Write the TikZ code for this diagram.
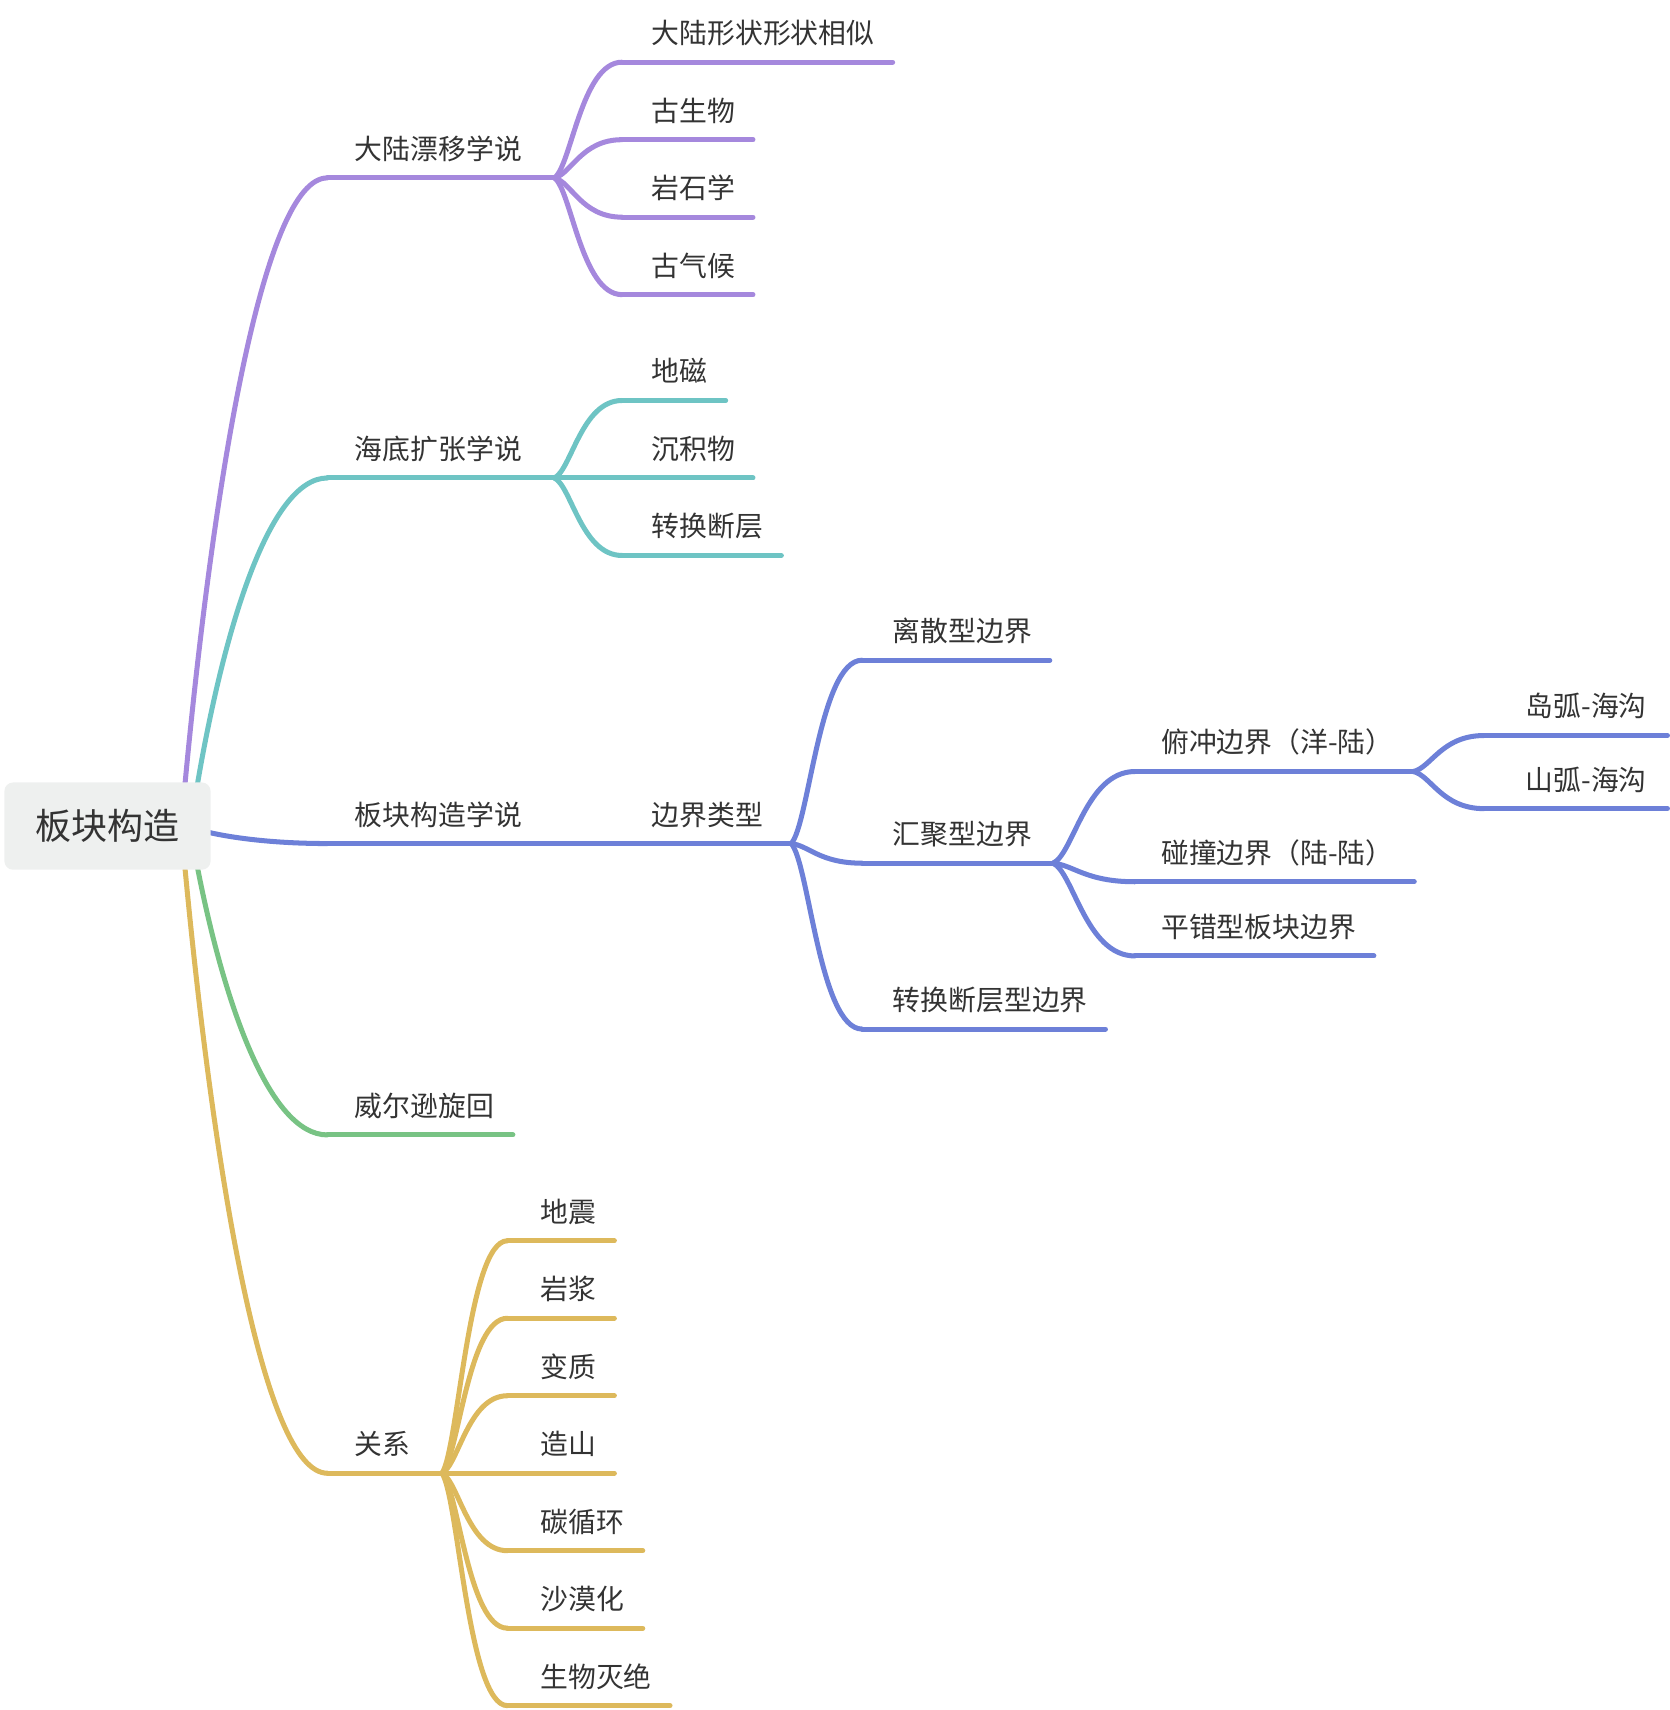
\documentclass[tikz,border=0pt]{standalone}
\usepackage{fontspec}
\setmainfont{Noto Sans CJK SC}
\usetikzlibrary{calc}
\pgfdeclarelayer{bg}
\pgfsetlayers{bg,main}
\definecolor{cpur}{HTML}{A588DD}
\definecolor{cteal}{HTML}{6EC4C4}
\definecolor{cblue}{HTML}{6D80D8}
\definecolor{cgreen}{HTML}{78C384}
\definecolor{cyel}{HTML}{DDB95C}
\definecolor{ctext}{HTML}{333333}
\definecolor{croot}{HTML}{EEF0EF}
\tikzset{
 lbl/.style={anchor=base west, inner sep=0pt, text=ctext, font=\fontsize{25.5}{30}\selectfont},
 rootbox/.style={fill=croot, rounded corners=8pt, minimum width=189pt, minimum height=80pt, inner sep=0pt, text=ctext, font=\fontsize{33}{38}\selectfont},
 br/.style={line width=4.6pt, line cap=round, draw=#1},
}
\newcommand\curveA[3]{\draw[br=#1] let \p1=(#2),\p2=(#3) in (\p1) .. controls ({\x1+0.2*(\x2-\x1)},{\y1+0.5*(\y2-\y1)}) and ({\x1+0.55*(\x2-\x1)},{\y2}) .. (\p2);}
\newcommand\curveB[3]{\draw[br=#1] let \p1=(#2),\p2=(#3) in (\p1) .. controls ({\x1+0.25*(\x2-\x1)},{\y1+0.1*(\y2-\y1)}) and ({\x1+0.4*(\x2-\x1)},{\y2}) .. (\p2);}
\newcommand\topic[7]{%
 \coordinate (#1-s) at (#2,#4);
 \coordinate (#1-e) at (#3,#4);
 \node[lbl] (#1) at (#5,#4-17) {#7};
 \draw[br=#6] (#1-s) -- (#1-e);}
\begin{document}
\begin{tikzpicture}[x=1pt,y=-1pt]
\useasboundingbox (0,0) rectangle (1530,1567);
\node[rootbox] (root) at (98.5,757) {板块构造};
\coordinate (rp) at (169,724);
\coordinate (rt) at (180,724);
\coordinate (rb) at (188,762);
\coordinate (rg) at (180,790);
\coordinate (ry) at (169,790);

\topic{t1}{300}{508}{163}{325}{cpur}{大陆漂移学说}
\topic{t1a}{570}{818}{57}{597}{cpur}{大陆形状形状相似}
\topic{t1b}{570}{690}{128}{597}{cpur}{古生物}
\topic{t1c}{570}{690}{199}{597}{cpur}{岩石学}
\topic{t1d}{570}{690}{270}{597}{cpur}{古气候}
\topic{t2}{300}{508}{438}{325}{cteal}{海底扩张学说}
\topic{t2a}{570}{665}{367}{597}{cteal}{地磁}
\topic{t2b}{570}{690}{438}{597}{cteal}{沉积物}
\topic{t2c}{570}{716}{509}{597}{cteal}{转换断层}
\topic{t3}{300}{508}{773}{325}{cblue}{板块构造学说}
\topic{t3a}{570}{725}{773}{597}{cblue}{边界类型}
\topic{t3b}{790}{962}{605}{818}{cblue}{离散型边界}
\topic{t3c}{790}{965}{791}{818}{cblue}{汇聚型边界}
\topic{t3d}{790}{1013}{943}{818}{cblue}{转换断层型边界}
\topic{t3e}{1040}{1295}{707}{1064}{cblue}{俯冲边界（洋-陆）}
\topic{t3f}{1040}{1296}{808}{1064}{cblue}{碰撞边界（陆-陆）}
\topic{t3g}{1040}{1259}{876}{1064}{cblue}{平错型板块边界}
\topic{t3h}{1360}{1528}{674}{1398}{cblue}{岛弧-海沟}
\topic{t3i}{1360}{1528}{741}{1398}{cblue}{山弧-海沟}
\topic{t4}{300}{470}{1040}{325}{cgreen}{威尔逊旋回}
\topic{t5}{300}{405}{1350}{325}{cyel}{关系}
\topic{t5a}{465}{563}{1137}{495}{cyel}{地震}
\topic{t5b}{465}{563}{1208}{495}{cyel}{岩浆}
\topic{t5c}{465}{563}{1279}{495}{cyel}{变质}
\topic{t5d}{465}{563}{1350}{495}{cyel}{造山}
\topic{t5e}{465}{589}{1421}{495}{cyel}{碳循环}
\topic{t5f}{465}{589}{1492}{495}{cyel}{沙漠化}
\topic{t5g}{465}{614}{1563}{495}{cyel}{生物灭绝}

\begin{pgfonlayer}{bg}
\curveA{cpur}{rp}{t1-s}
\curveA{cteal}{rt}{t2-s}
\curveA{cblue}{rb}{t3-s}
\curveA{cgreen}{rg}{t4-s}
\curveA{cyel}{ry}{t5-s}
\end{pgfonlayer}

\curveB{cpur}{t1-e}{t1a-s}
\curveB{cpur}{t1-e}{t1b-s}
\curveB{cpur}{t1-e}{t1c-s}
\curveB{cpur}{t1-e}{t1d-s}
\curveB{cteal}{t2-e}{t2a-s}
\curveB{cteal}{t2-e}{t2b-s}
\curveB{cteal}{t2-e}{t2c-s}
\curveB{cblue}{t3-e}{t3a-s}
\curveB{cblue}{t3a-e}{t3b-s}
\curveB{cblue}{t3a-e}{t3c-s}
\curveB{cblue}{t3a-e}{t3d-s}
\curveB{cblue}{t3c-e}{t3e-s}
\curveB{cblue}{t3c-e}{t3f-s}
\curveB{cblue}{t3c-e}{t3g-s}
\curveB{cblue}{t3e-e}{t3h-s}
\curveB{cblue}{t3e-e}{t3i-s}
\curveB{cyel}{t5-e}{t5a-s}
\curveB{cyel}{t5-e}{t5b-s}
\curveB{cyel}{t5-e}{t5c-s}
\curveB{cyel}{t5-e}{t5d-s}
\curveB{cyel}{t5-e}{t5e-s}
\curveB{cyel}{t5-e}{t5f-s}
\curveB{cyel}{t5-e}{t5g-s}
\end{tikzpicture}
\end{document}
